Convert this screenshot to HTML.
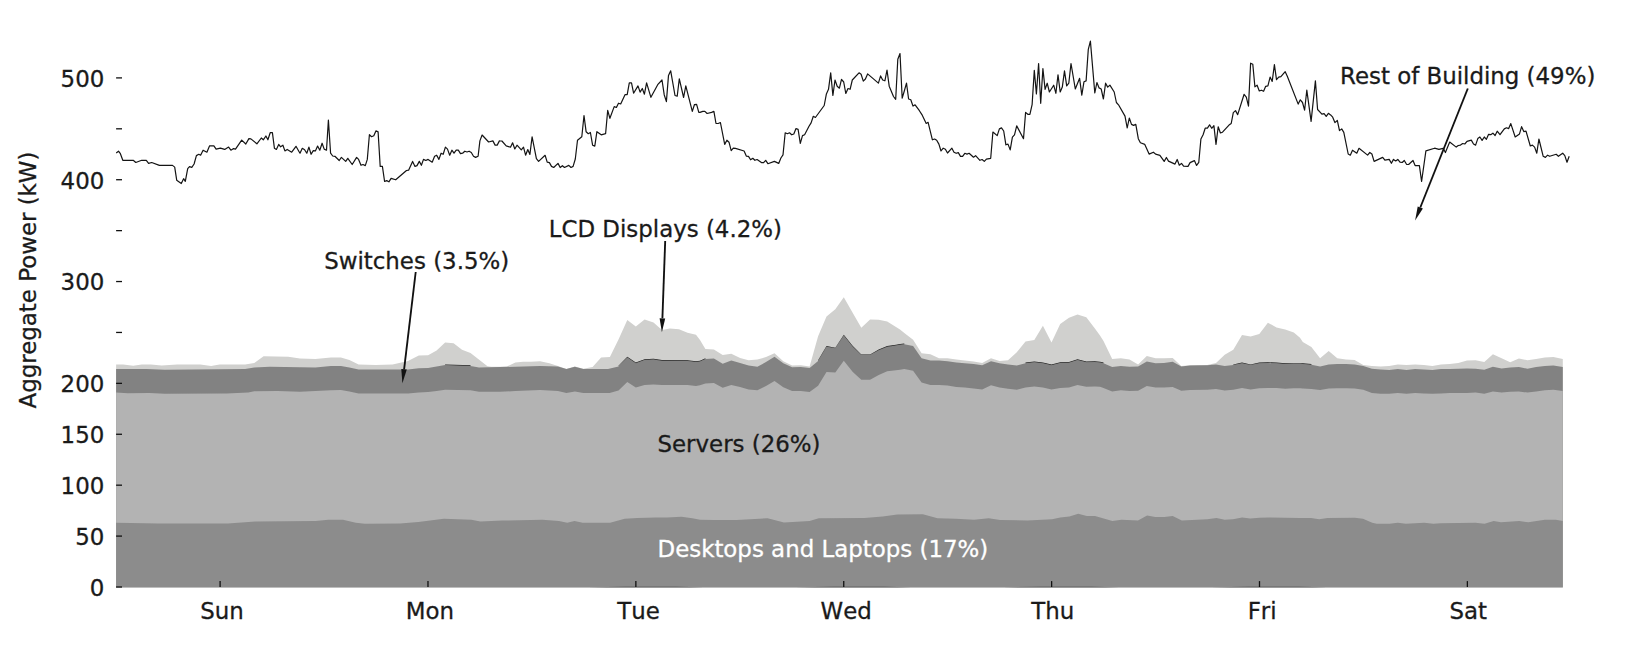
<!DOCTYPE html>
<html><head><meta charset="utf-8"><title>Aggregate Power</title>
<style>html,body{margin:0;padding:0;background:#fff;}svg{display:block;}</style>
</head><body>
<svg width="1642" height="648" viewBox="0 0 1642 648" font-family="'DejaVu Sans','Liberation Sans',sans-serif" fill="#1a1a1a">
<style>text{stroke:#1a1a1a;stroke-width:0.3px} text.w{stroke:#fff}</style>
<path d="M116.1,364.4 L123.2,364.4 L133.2,365.8 L141.7,364.4 L150.9,364.4 L161.7,365.5 L177.2,364.6 L200.3,364.4 L211.1,366.1 L219.6,364.4 L245.1,364.6 L254.3,362.9 L263.6,356.3 L288.3,356.7 L300.0,358.6 L315.4,359.1 L330.9,357.4 L340.9,357.4 L349.4,360.1 L358.6,364.5 L375.6,365.1 L392.6,364.5 L408.0,360.9 L418.8,355.5 L428.1,355.2 L436.6,350.4 L445.1,342.4 L453.6,343.2 L462.0,349.8 L470.5,352.9 L487.5,366.3 L491.4,366.8 L500.0,366.8 L506.9,366.4 L515.4,362.5 L523.1,361.7 L530.9,361.7 L540.1,361.3 L549.4,363.3 L557.9,366.1 L566.4,369.0 L574.9,366.4 L583.3,368.7 L592.6,367.1 L601.1,357.4 L609.9,357.1 L618.5,339.4 L627.3,320.1 L635.8,326.5 L644.6,319.6 L653.5,322.4 L662.0,330.1 L669.8,328.6 L679.0,329.3 L687.5,332.7 L696.0,334.7 L700.0,340.1 L705.4,349.1 L713.9,349.4 L722.7,355.1 L731.3,353.7 L740.1,357.9 L748.6,360.2 L757.4,359.4 L766.0,357.1 L774.5,353.3 L783.3,361.3 L792.1,365.6 L800.8,365.3 L809.6,366.4 L818.1,336.3 L826.5,316.5 L835.3,309.3 L843.8,297.2 L852.8,313.1 L861.3,327.8 L870.1,319.6 L878.7,319.8 L887.2,321.6 L896.0,327.0 L900.0,329.4 L904.3,332.9 L913.1,339.8 L921.6,353.2 L930.4,354.3 L939.0,358.3 L947.5,358.2 L956.3,359.4 L964.8,360.5 L973.6,361.4 L982.2,363.0 L991.0,358.3 L999.5,361.0 L1008.0,360.2 L1016.8,352.2 L1025.5,341.4 L1034.3,340.1 L1042.9,325.8 L1051.5,342.4 L1060.2,323.9 L1069.0,317.8 L1077.5,314.4 L1086.3,317.3 L1094.9,328.6 L1100.0,335.5 L1103.5,340.9 L1112.2,359.1 L1120.8,358.2 L1129.5,359.4 L1138.1,364.4 L1146.8,355.9 L1155.6,358.3 L1164.0,358.3 L1172.7,357.9 L1181.3,366.1 L1190.0,365.3 L1198.8,365.1 L1207.2,365.1 L1216.0,363.0 L1224.7,354.8 L1233.3,349.7 L1242.0,335.0 L1250.6,336.6 L1259.3,333.9 L1267.9,322.7 L1276.5,327.5 L1285.2,329.6 L1293.8,332.4 L1300.0,337.8 L1302.8,342.0 L1311.4,347.1 L1320.1,358.3 L1328.7,350.9 L1337.3,358.2 L1346.0,359.4 L1354.6,359.9 L1363.3,365.1 L1371.9,365.9 L1380.6,366.4 L1389.2,366.1 L1397.8,364.4 L1406.5,365.1 L1415.1,364.4 L1423.8,365.1 L1432.4,366.1 L1441.0,364.4 L1449.7,364.0 L1458.3,363.0 L1467.0,360.5 L1475.6,360.2 L1484.3,362.0 L1492.9,354.3 L1501.6,358.3 L1510.2,362.2 L1518.9,358.6 L1527.5,360.2 L1536.1,358.9 L1544.8,357.6 L1553.4,357.1 L1562.8,358.9 L1562.8,587.3 L116.1,587.3Z" fill="#d0d0ce"/>
<path d="M116.1,369.1 L146.3,369.1 L164.8,369.7 L245.1,369.1 L254.3,367.5 L269.8,366.8 L300.0,367.2 L315.4,367.4 L330.9,366.0 L340.9,365.9 L349.4,367.4 L358.6,369.4 L408.0,369.4 L418.8,368.3 L428.1,367.9 L436.6,366.6 L445.1,365.1 L454.3,365.6 L470.5,366.0 L479.0,367.4 L500.0,367.1 L515.4,366.7 L540.1,365.9 L557.9,366.4 L566.4,369.0 L574.9,366.7 L583.3,369.0 L608.0,369.0 L618.5,366.4 L627.3,357.4 L635.8,363.3 L644.6,359.9 L653.5,359.4 L662.0,360.6 L687.5,361.0 L696.0,362.0 L700.0,361.4 L705.4,359.0 L713.9,358.4 L722.7,363.8 L731.3,360.5 L740.1,363.0 L748.6,365.6 L757.4,366.7 L766.0,362.1 L774.5,356.7 L783.3,363.3 L792.1,367.2 L800.8,366.9 L809.6,367.9 L818.1,361.0 L826.5,346.8 L835.3,348.3 L843.8,335.5 L852.8,346.6 L861.3,355.1 L870.1,355.1 L878.7,350.2 L887.2,346.6 L896.0,345.6 L900.0,344.8 L904.3,344.3 L913.1,346.0 L921.6,358.3 L930.4,360.6 L939.0,360.6 L947.5,361.3 L956.3,362.5 L964.8,363.3 L973.6,364.0 L982.2,365.3 L991.0,361.3 L999.5,363.3 L1008.0,364.5 L1016.8,365.6 L1025.5,363.3 L1034.3,362.2 L1042.9,363.3 L1051.5,365.3 L1060.2,363.0 L1069.0,362.8 L1077.5,359.9 L1086.3,362.2 L1094.9,362.0 L1100.0,362.5 L1103.5,363.3 L1112.2,367.1 L1120.8,366.1 L1129.5,366.8 L1138.1,366.4 L1146.8,361.4 L1155.6,363.3 L1164.0,363.0 L1172.7,361.7 L1181.3,366.4 L1190.0,365.6 L1207.2,365.3 L1216.0,364.4 L1224.7,365.9 L1233.3,365.1 L1242.0,363.3 L1250.6,365.1 L1259.3,363.3 L1267.9,363.0 L1276.5,363.3 L1285.2,364.0 L1293.8,363.6 L1300.0,363.6 L1302.8,364.0 L1311.4,364.8 L1320.1,366.4 L1328.7,364.4 L1337.3,364.0 L1346.0,364.0 L1354.6,364.4 L1363.3,365.9 L1371.9,368.7 L1380.6,369.4 L1389.2,369.9 L1397.8,369.0 L1406.5,369.9 L1415.1,369.1 L1423.8,369.4 L1432.4,369.9 L1441.0,369.1 L1449.7,369.0 L1458.3,368.7 L1467.0,368.4 L1475.6,368.7 L1484.3,369.8 L1492.9,366.8 L1501.6,368.4 L1510.2,367.4 L1518.9,367.1 L1527.5,368.7 L1536.1,367.1 L1544.8,366.1 L1553.4,365.6 L1562.8,367.1 L1562.8,587.3 L116.1,587.3Z" fill="#828282"/>
<path d="M116.1,392.5 L127.8,393.3 L149.4,393.0 L164.8,393.8 L226.5,393.6 L248.2,392.5 L254.3,391.3 L277.5,391.0 L300.0,391.8 L315.4,391.0 L330.9,390.2 L340.9,389.9 L349.4,391.5 L358.6,393.6 L408.0,393.6 L418.8,392.6 L428.1,392.1 L436.6,391.0 L445.1,389.8 L470.5,390.2 L479.0,391.8 L500.0,391.8 L515.4,391.1 L540.1,390.0 L557.9,391.1 L566.4,393.1 L574.9,391.4 L583.3,393.1 L609.6,392.9 L618.5,390.6 L627.3,382.1 L635.8,387.5 L644.6,384.9 L653.5,384.4 L662.0,384.9 L687.5,384.9 L696.0,386.1 L700.0,385.3 L705.4,383.4 L713.9,383.1 L722.7,387.7 L731.3,384.9 L740.1,386.9 L748.6,389.5 L757.4,390.3 L766.0,386.0 L774.5,381.1 L783.3,387.2 L792.1,391.1 L800.8,391.1 L809.6,391.9 L818.1,385.7 L826.5,372.1 L835.3,372.6 L843.8,360.7 L852.8,372.1 L861.3,379.8 L870.1,379.8 L878.7,374.9 L887.2,371.3 L896.0,370.2 L900.0,369.8 L904.3,369.0 L913.1,370.7 L921.6,382.6 L930.4,384.9 L939.0,384.9 L947.5,385.6 L956.3,386.9 L964.8,387.6 L973.6,388.4 L982.2,389.5 L991.0,385.3 L999.5,387.6 L1008.0,388.7 L1016.8,389.8 L1025.5,387.5 L1034.3,386.4 L1042.9,387.5 L1051.5,389.5 L1060.2,388.0 L1069.0,387.5 L1077.5,384.9 L1086.3,386.7 L1094.9,386.4 L1100.0,386.7 L1103.5,388.0 L1112.2,391.4 L1120.8,390.3 L1129.5,391.1 L1138.1,390.7 L1146.8,386.0 L1155.6,387.6 L1164.0,387.5 L1172.7,386.9 L1181.3,390.7 L1190.0,390.0 L1207.2,389.8 L1216.0,389.0 L1224.7,390.6 L1233.3,389.8 L1242.0,388.0 L1250.6,389.5 L1259.3,388.3 L1267.9,388.0 L1276.5,388.0 L1285.2,388.7 L1293.8,388.3 L1300.0,388.3 L1302.8,388.4 L1311.4,389.0 L1320.1,390.0 L1328.7,388.4 L1337.3,388.3 L1346.0,388.3 L1354.6,388.4 L1363.3,389.8 L1371.9,392.9 L1380.6,393.7 L1389.2,393.8 L1397.8,392.9 L1406.5,393.7 L1415.1,393.1 L1423.8,393.4 L1432.4,393.8 L1441.0,393.4 L1449.7,393.1 L1458.3,392.9 L1467.0,392.9 L1475.6,392.6 L1484.3,393.8 L1492.9,391.4 L1501.6,392.6 L1510.2,391.8 L1518.9,391.4 L1527.5,392.6 L1536.1,391.4 L1544.8,390.3 L1553.4,389.8 L1562.8,391.1 L1562.8,587.3 L116.1,587.3Z" fill="#b3b3b3"/>
<path d="M116.1,522.8 L158.5,523.4 L227.9,523.4 L255.3,521.6 L315.6,521.0 L328.4,519.7 L343.0,519.7 L355.8,522.8 L364.9,523.8 L400.0,523.4 L418.3,521.9 L443.9,518.8 L471.3,519.7 L480.4,521.6 L502.3,520.6 L542.5,519.7 L559.0,521.0 L567.2,522.8 L574.5,521.0 L582.7,522.8 L610.1,522.8 L624.7,518.8 L637.5,517.9 L655.8,517.4 L666.8,517.4 L681.4,516.8 L692.3,518.3 L700.0,519.7 L714.6,520.1 L736.5,520.1 L767.6,518.3 L784.0,522.5 L809.6,521.0 L818.8,518.3 L864.4,517.9 L882.7,516.4 L897.3,514.6 L922.9,514.2 L937.5,518.3 L955.8,518.8 L974.1,519.7 L988.7,518.3 L1000.0,520.1 L1027.4,520.5 L1052.1,519.2 L1060.3,517.4 L1069.4,516.4 L1078.2,513.7 L1086.8,516.1 L1095.0,516.1 L1112.4,521.0 L1121.5,519.7 L1138.0,520.6 L1147.1,515.5 L1155.3,517.0 L1164.4,517.0 L1172.7,516.1 L1181.8,520.5 L1207.4,519.2 L1216.5,517.9 L1224.7,519.7 L1233.0,519.2 L1242.1,517.4 L1250.3,518.6 L1259.5,517.7 L1268.6,517.4 L1300.0,517.9 L1311.0,517.9 L1319.2,519.2 L1327.4,517.9 L1354.8,517.7 L1363.0,518.8 L1372.2,522.8 L1376.7,523.8 L1389.5,523.8 L1397.8,522.8 L1406.0,523.8 L1424.2,522.8 L1433.4,523.8 L1440.7,523.2 L1475.4,522.8 L1484.5,523.8 L1493.7,521.0 L1501.0,522.3 L1519.3,521.0 L1528.4,522.3 L1544.8,519.7 L1555.8,519.7 L1562.8,521.0 L1562.8,587.3 L116.1,587.3Z" fill="#8c8c8c"/>
<path d="M445.1,364.39 L454.3,364.86 L470.5,365.32 L470.5,366.02 L454.3,365.56 L445.1,365.09Z" fill="#1c1c1c"/>
<path d="M618.5,365.66 L627.3,356.71 L635.8,362.57 L644.6,359.18 L653.5,358.71 L662.0,359.95 L687.5,360.26 L696.0,361.34 L700.0,360.72 L705.4,358.28 L705.4,358.98 L700.0,361.42 L696.0,362.04 L687.5,360.96 L662.0,360.65 L653.5,359.41 L644.6,359.88 L635.8,363.27 L627.3,357.41 L618.5,366.36Z" fill="#1c1c1c"/>
<path d="M818.1,360.29 L826.5,346.09 L835.3,347.63 L843.8,334.82 L852.8,345.94 L861.3,354.42 L870.1,354.42 L878.7,349.49 L887.2,345.94 L896.0,344.86 L900.0,344.08 L904.3,343.59 L904.3,344.29 L900.0,344.78 L896.0,345.56 L887.2,346.64 L878.7,350.19 L870.1,355.12 L861.3,355.12 L852.8,346.64 L843.8,335.52 L835.3,348.33 L826.5,346.79 L818.1,360.99Z" fill="#1c1c1c"/>
<path d="M1025.5,362.57 L1034.3,361.49 L1042.9,362.57 L1051.5,364.58 L1060.2,362.26 L1069.0,362.11 L1077.5,359.18 L1086.3,361.49 L1094.9,361.34 L1100.0,361.80 L1103.5,362.57 L1103.5,363.27 L1100.0,362.50 L1094.9,362.04 L1086.3,362.19 L1077.5,359.88 L1069.0,362.81 L1060.2,362.96 L1051.5,365.28 L1042.9,363.27 L1034.3,362.19 L1025.5,363.27Z" fill="#1c1c1c"/>
<path d="M1233.3,364.42 L1242.0,362.57 L1250.6,364.42 L1259.3,362.57 L1267.9,362.26 L1276.5,362.57 L1285.2,363.34 L1293.8,362.88 L1300.0,362.88 L1302.8,363.34 L1311.4,364.11 L1311.4,364.81 L1302.8,364.04 L1300.0,363.58 L1293.8,363.58 L1285.2,364.04 L1276.5,363.27 L1267.9,362.96 L1259.3,363.27 L1250.6,365.12 L1242.0,363.27 L1233.3,365.12Z" fill="#1c1c1c"/>
<path d="M587.7,587.3 L625.7,586.75 L675.7,586.75 L703.7,587.3Z" fill="#3a3a3a"/>
<path d="M795.4,587.3 L833.4,586.75 L883.4,586.75 L911.4,587.3Z" fill="#3a3a3a"/>
<path d="M1003.2,587.3 L1041.2,586.75 L1091.2,586.75 L1119.2,587.3Z" fill="#3a3a3a"/>
<path d="M1211.0,587.3 L1249.0,586.75 L1299.0,586.75 L1327.0,587.3Z" fill="#3a3a3a"/>
<path d="M116.2,152.9 L118.5,151.2 L120.4,153.7 L122.8,160.3 L133.2,160.3 L135.8,162.5 L141.7,160.3 L146.3,160.3 L148.6,163.3 L151.7,162.5 L159.4,165.4 L172.5,165.4 L174.7,167.1 L176.7,180.2 L181.3,183.5 L183.6,178.7 L185.3,181.3 L187.7,168.7 L189.5,166.7 L191.8,167.3 L194.1,164.0 L196.4,155.6 L198.8,154.3 L200.6,155.2 L203.1,150.2 L206.9,152.2 L209.6,145.8 L213.9,145.8 L216.1,149.1 L220.4,148.2 L224.7,149.4 L228.6,147.1 L230.9,150.2 L233.6,148.6 L235.5,149.1 L241.7,140.1 L245.8,144.0 L248.9,138.6 L250.9,138.9 L256.9,143.8 L261.3,138.0 L263.3,139.8 L265.9,136.0 L267.9,139.8 L270.2,132.7 L272.4,132.7 L274.4,148.2 L276.4,149.4 L278.7,144.4 L280.6,146.8 L282.9,145.2 L284.9,150.9 L287.2,149.4 L291.7,152.2 L296.0,146.3 L299.1,151.7 L300.0,153.2 L302.3,148.3 L304.6,149.7 L306.8,153.2 L308.9,147.1 L311.1,154.3 L313.3,150.6 L315.4,150.9 L317.6,146.0 L319.8,150.2 L322.1,143.2 L324.2,149.1 L326.5,150.2 L328.4,120.1 L330.6,153.2 L332.7,156.0 L334.9,156.3 L339.2,160.5 L341.4,157.4 L345.7,161.4 L347.8,158.3 L352.2,164.5 L356.6,157.4 L358.6,159.4 L361.0,165.3 L363.0,164.5 L365.3,165.6 L367.3,159.4 L369.4,134.7 L371.6,136.7 L373.8,135.8 L375.9,130.9 L378.1,131.9 L380.2,166.4 L382.4,166.4 L384.6,181.5 L386.7,180.6 L388.9,181.8 L391.1,178.4 L395.7,179.8 L406.5,170.5 L408.6,170.2 L412.6,161.4 L415.0,166.4 L417.0,165.6 L419.3,161.4 L421.4,165.3 L423.5,159.4 L425.8,160.5 L428.1,159.4 L432.2,162.2 L434.6,156.3 L436.7,155.2 L438.9,159.4 L441.1,153.2 L443.2,154.3 L445.4,147.1 L447.5,149.1 L449.7,155.2 L451.9,150.2 L454.0,153.2 L456.2,150.2 L458.3,150.2 L460.5,153.6 L462.6,153.2 L464.8,151.2 L467.0,152.0 L469.1,151.2 L471.3,152.5 L473.5,156.3 L475.6,157.4 L478.1,156.3 L479.9,140.9 L482.1,135.0 L488.6,142.0 L492.9,140.9 L495.1,145.1 L497.2,145.1 L499.4,140.9 L500.0,141.0 L501.9,141.0 L506.2,145.9 L510.5,147.2 L512.6,142.8 L514.8,149.0 L517.0,145.2 L521.3,149.9 L523.5,147.2 L525.6,155.2 L527.8,149.5 L529.9,154.4 L532.1,136.8 L536.4,158.7 L538.6,161.4 L545.1,155.3 L547.2,162.1 L549.4,162.6 L551.5,166.4 L553.7,167.5 L558.0,163.4 L560.2,167.5 L562.4,165.7 L564.5,167.5 L568.8,165.4 L571.0,167.5 L573.1,166.4 L575.3,159.0 L577.5,140.2 L581.8,136.8 L584.0,115.5 L586.1,131.7 L588.3,133.7 L590.4,132.5 L592.6,145.2 L594.8,146.1 L596.9,131.7 L601.2,134.8 L605.6,133.7 L607.7,110.4 L609.9,118.3 L614.2,106.6 L616.4,107.5 L618.5,103.2 L620.7,104.0 L625.0,94.7 L627.2,94.7 L629.3,82.8 L631.5,82.8 L633.6,93.2 L638.0,85.9 L640.1,92.1 L642.3,88.5 L644.4,94.2 L646.6,82.8 L650.9,97.3 L657.7,84.7 L662.0,80.0 L664.2,94.7 L666.4,101.6 L668.5,75.4 L670.7,70.8 L675.0,95.5 L677.2,96.2 L679.3,78.8 L683.6,97.5 L685.8,85.9 L692.3,111.4 L694.4,104.7 L696.6,104.3 L698.8,112.4 L700.0,112.4 L702.8,111.4 L704.9,111.4 L707.1,113.5 L711.6,112.4 L713.9,111.4 L716.0,123.5 L718.2,123.5 L720.4,122.5 L724.7,144.4 L726.9,140.2 L729.0,142.2 L731.2,150.6 L733.3,148.2 L735.5,148.4 L744.1,151.0 L746.3,156.1 L748.5,156.4 L750.6,159.8 L752.8,158.3 L754.9,160.3 L757.1,159.5 L761.4,162.6 L763.6,162.6 L765.7,160.3 L767.9,163.7 L774.4,161.4 L778.7,163.4 L780.9,158.0 L783.0,154.9 L785.2,132.8 L787.4,133.7 L789.5,132.8 L791.7,134.8 L793.8,134.0 L796.0,128.6 L798.1,129.4 L800.3,143.3 L802.5,135.6 L804.6,134.8 L809.0,126.3 L811.1,122.9 L813.3,116.3 L815.4,117.5 L824.2,105.5 L826.4,93.9 L828.5,89.3 L830.7,72.8 L832.9,95.5 L835.0,80.0 L837.2,86.2 L839.4,88.2 L841.5,79.3 L843.7,82.0 L845.8,93.5 L848.0,88.5 L850.1,89.3 L852.3,80.0 L859.0,72.8 L861.1,74.3 L863.3,81.1 L865.4,79.0 L867.6,73.9 L878.4,83.1 L880.6,75.9 L882.7,80.0 L884.9,80.8 L887.0,70.0 L889.2,86.2 L893.5,96.5 L895.7,99.3 L897.8,59.3 L900.0,53.5 L902.2,98.2 L904.3,91.0 L906.5,83.2 L908.6,99.0 L910.8,99.8 L913.0,106.1 L915.1,104.8 L919.4,110.7 L921.9,114.6 L926.2,123.4 L928.1,122.3 L932.4,139.8 L934.6,139.0 L936.7,140.2 L938.9,144.1 L941.0,151.0 L943.2,148.2 L945.4,149.2 L947.5,153.0 L951.9,148.2 L954.0,152.2 L956.2,153.3 L958.3,152.6 L960.5,156.4 L962.6,156.4 L964.8,153.3 L967.0,154.1 L969.1,153.3 L973.5,157.2 L975.6,155.7 L979.9,160.3 L982.1,159.5 L984.3,161.4 L986.4,159.2 L990.7,158.3 L992.9,132.0 L997.2,135.6 L999.4,128.9 L1001.5,127.9 L1003.7,131.0 L1005.9,144.8 L1008.0,144.1 L1010.2,149.9 L1012.4,137.1 L1014.5,134.8 L1016.7,125.9 L1023.5,138.7 L1025.6,112.4 L1027.8,114.3 L1029.9,114.3 L1032.1,104.7 L1034.3,70.4 L1036.4,94.0 L1038.6,63.5 L1040.7,103.3 L1042.9,68.6 L1045.1,89.4 L1047.2,83.2 L1049.4,92.0 L1053.7,85.2 L1055.9,93.3 L1058.0,74.8 L1060.2,92.0 L1062.3,87.1 L1064.5,70.9 L1066.7,85.9 L1068.8,83.2 L1071.0,63.5 L1075.3,89.0 L1079.6,78.3 L1081.8,95.1 L1084.0,81.7 L1086.1,80.9 L1088.3,49.3 L1090.4,41.1 L1094.8,93.0 L1096.9,82.5 L1099.1,87.9 L1101.2,89.0 L1103.4,99.0 L1105.6,83.2 L1107.7,87.1 L1109.9,85.1 L1114.2,92.0 L1116.4,102.5 L1118.5,104.8 L1125.0,116.1 L1127.2,128.0 L1129.3,118.0 L1131.5,124.4 L1133.6,125.4 L1135.8,124.4 L1138.3,138.7 L1140.4,142.8 L1144.8,144.4 L1149.1,154.1 L1153.4,152.2 L1155.6,154.1 L1159.9,155.3 L1164.2,161.4 L1166.4,157.5 L1168.5,161.1 L1175.0,164.1 L1177.2,159.5 L1179.3,165.2 L1181.5,163.4 L1183.6,166.1 L1188.0,166.4 L1190.1,162.6 L1194.4,160.6 L1196.6,165.4 L1198.8,162.3 L1200.9,139.0 L1203.1,134.8 L1205.2,128.2 L1207.4,128.2 L1209.6,124.8 L1211.7,128.3 L1213.9,125.6 L1216.0,144.4 L1218.2,126.8 L1220.4,133.0 L1222.5,132.2 L1229.0,125.1 L1231.2,123.5 L1233.3,112.6 L1235.5,110.6 L1237.7,114.6 L1244.1,94.3 L1246.3,97.1 L1248.5,106.1 L1250.6,63.2 L1252.8,64.3 L1254.9,86.8 L1257.1,85.2 L1259.3,91.0 L1261.4,90.2 L1263.6,91.3 L1265.7,86.3 L1267.9,85.9 L1270.1,77.1 L1272.2,81.4 L1274.4,64.7 L1276.5,79.7 L1278.7,77.1 L1280.9,76.6 L1285.2,71.7 L1287.3,76.3 L1298.2,104.1 L1300.3,99.8 L1302.5,102.5 L1304.6,110.2 L1306.8,90.2 L1311.1,121.4 L1315.4,80.9 L1317.6,109.5 L1321.9,114.1 L1324.1,113.6 L1326.2,116.4 L1328.4,113.3 L1330.6,114.9 L1332.7,117.2 L1334.9,122.6 L1337.0,120.7 L1337.3,120.4 L1339.5,130.6 L1341.7,128.9 L1343.8,132.4 L1348.2,154.0 L1350.3,155.2 L1352.5,150.2 L1356.8,153.2 L1359.0,148.3 L1367.6,155.1 L1369.8,152.5 L1371.9,154.0 L1374.1,161.4 L1382.7,157.4 L1384.9,160.2 L1389.2,159.4 L1391.4,163.3 L1393.5,159.4 L1395.7,161.0 L1397.8,159.4 L1400.0,162.2 L1402.2,162.5 L1404.3,160.5 L1406.5,164.3 L1408.6,164.5 L1413.0,160.5 L1415.1,165.6 L1419.4,165.6 L1421.6,181.5 L1425.9,150.9 L1434.6,148.2 L1438.9,149.4 L1443.2,148.3 L1445.4,152.5 L1449.7,142.0 L1456.2,147.1 L1458.3,145.5 L1460.5,145.1 L1462.7,143.5 L1464.8,144.0 L1467.0,141.4 L1471.3,140.1 L1473.5,144.0 L1475.6,145.1 L1477.8,138.6 L1479.9,137.0 L1482.1,140.4 L1484.3,137.0 L1486.4,139.3 L1488.6,134.3 L1490.7,134.7 L1492.9,133.2 L1495.1,135.5 L1497.2,131.2 L1500.0,134.7 L1504.3,128.9 L1506.5,127.8 L1508.7,128.6 L1510.8,123.6 L1515.2,137.0 L1519.5,133.9 L1521.6,126.7 L1523.8,131.6 L1526.0,131.2 L1530.3,146.0 L1532.4,145.1 L1534.6,147.1 L1536.8,153.2 L1538.9,139.0 L1543.2,156.3 L1545.4,157.4 L1547.6,155.2 L1549.7,156.3 L1556.2,154.3 L1558.4,156.3 L1562.7,153.2 L1564.8,155.6 L1567.0,162.2 L1569.2,156.3" fill="none" stroke="#141414" stroke-width="1.2" stroke-linejoin="round"/>
<line x1="116.1" x2="122.0" y1="587.00" y2="587.00" stroke="#111" stroke-width="1.3"/>
<line x1="116.1" x2="122.0" y1="536.09" y2="536.09" stroke="#111" stroke-width="1.3"/>
<line x1="116.1" x2="122.0" y1="485.18" y2="485.18" stroke="#111" stroke-width="1.3"/>
<line x1="116.1" x2="122.0" y1="434.27" y2="434.27" stroke="#111" stroke-width="1.3"/>
<line x1="116.1" x2="122.0" y1="383.36" y2="383.36" stroke="#111" stroke-width="1.3"/>
<line x1="116.1" x2="122.0" y1="332.45" y2="332.45" stroke="#111" stroke-width="1.3"/>
<line x1="116.1" x2="122.0" y1="281.54" y2="281.54" stroke="#111" stroke-width="1.3"/>
<line x1="116.1" x2="122.0" y1="230.63" y2="230.63" stroke="#111" stroke-width="1.3"/>
<line x1="116.1" x2="122.0" y1="179.72" y2="179.72" stroke="#111" stroke-width="1.3"/>
<line x1="116.1" x2="122.0" y1="128.81" y2="128.81" stroke="#111" stroke-width="1.3"/>
<line x1="116.1" x2="122.0" y1="77.90" y2="77.90" stroke="#111" stroke-width="1.3"/>
<line x1="220.10" x2="220.10" y1="587.0" y2="581.1" stroke="#111" stroke-width="1.3"/>
<line x1="427.98" x2="427.98" y1="587.0" y2="581.1" stroke="#111" stroke-width="1.3"/>
<line x1="635.86" x2="635.86" y1="587.0" y2="581.1" stroke="#111" stroke-width="1.3"/>
<line x1="843.74" x2="843.74" y1="587.0" y2="581.1" stroke="#111" stroke-width="1.3"/>
<line x1="1051.62" x2="1051.62" y1="587.0" y2="581.1" stroke="#111" stroke-width="1.3"/>
<line x1="1259.50" x2="1259.50" y1="587.0" y2="581.1" stroke="#111" stroke-width="1.3"/>
<line x1="1467.38" x2="1467.38" y1="587.0" y2="581.1" stroke="#111" stroke-width="1.3"/>
<text x="104.3" y="595.90" text-anchor="end" font-size="22.9">0</text>
<text x="104.3" y="544.99" text-anchor="end" font-size="22.9">50</text>
<text x="104.3" y="494.08" text-anchor="end" font-size="22.9">100</text>
<text x="104.3" y="443.17" text-anchor="end" font-size="22.9">150</text>
<text x="104.3" y="392.26" text-anchor="end" font-size="22.9">200</text>
<text x="104.3" y="290.44" text-anchor="end" font-size="22.9">300</text>
<text x="104.3" y="188.62" text-anchor="end" font-size="22.9">400</text>
<text x="104.3" y="86.80" text-anchor="end" font-size="22.9">500</text>
<text x="222.05" y="618.8" text-anchor="middle" font-size="22.9" style="font-kerning:none">Sun</text>
<text x="429.92" y="618.8" text-anchor="middle" font-size="22.9" style="font-kerning:none">Mon</text>
<text x="638.64" y="618.8" text-anchor="middle" font-size="22.9" style="font-kerning:none">Tue</text>
<text x="846.21" y="618.8" text-anchor="middle" font-size="22.9" style="font-kerning:none">Wed</text>
<text x="1052.78" y="618.8" text-anchor="middle" font-size="22.9" style="font-kerning:none">Thu</text>
<text x="1262.10" y="618.8" text-anchor="middle" font-size="22.9" style="font-kerning:none">Fri</text>
<text x="1468.27" y="618.8" text-anchor="middle" font-size="22.9" style="font-kerning:none">Sat</text>
<text transform="translate(35.6,280) rotate(-90)" text-anchor="middle" font-size="22.9">Aggregate Power (kW)</text>
<text x="1340" y="83.9" font-size="22.9">Rest of Building (49%)</text>
<text x="548.7" y="236.6" font-size="22.9">LCD Displays (4.2%)</text>
<text x="324.2" y="268.6" font-size="22.9">Switches (3.5%)</text>
<text x="657.5" y="451.7" font-size="22.9">Servers (26%)</text>
<text x="657.5" y="556.6" font-size="22.9" fill="#fff" class="w">Desktops and Laptops (17%)</text>
<line x1="1467.8" y1="88.5" x2="1420.3" y2="207.5" stroke="#111" stroke-width="1.85"/><polygon points="1415.1,220.5 1417.7,206.5 1422.9,208.5" fill="#111"/>
<line x1="665.2" y1="241.0" x2="662.4" y2="318.3" stroke="#111" stroke-width="1.85"/><polygon points="661.9,332.3 659.6,318.2 665.2,318.4" fill="#111"/>
<line x1="415.7" y1="272.0" x2="404.1" y2="369.3" stroke="#111" stroke-width="1.85"/><polygon points="402.4,383.2 401.3,369.0 406.8,369.6" fill="#111"/>
</svg>
</body></html>
